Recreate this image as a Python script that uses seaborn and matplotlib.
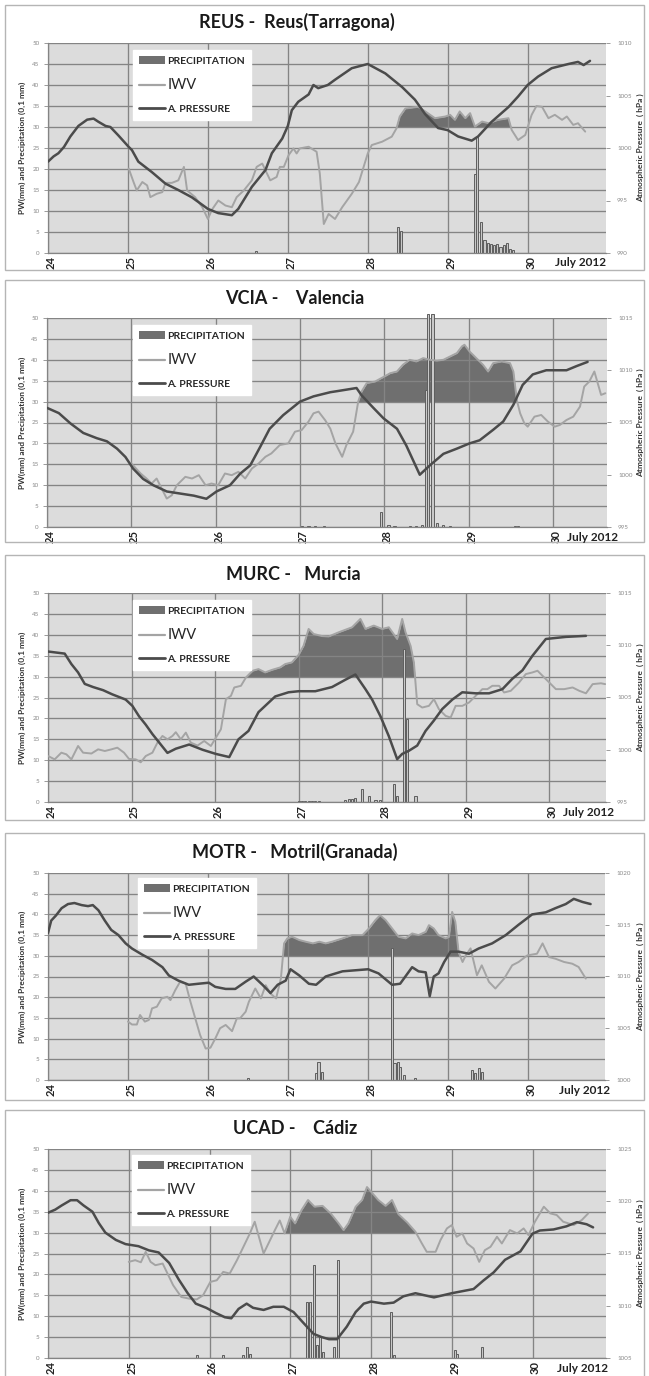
import numpy as np
import pandas as pd
import matplotlib
matplotlib.use("Agg")
import matplotlib.pyplot as plt
import seaborn as sns
from matplotlib.patches import Patch, Rectangle
from matplotlib.lines import Line2D
from matplotlib.transforms import ScaledTranslation

sns.set_style("white")
plt.rcParams["font.family"] = ["Lato", "DejaVu Sans"]

# ---------------- DATA ----------------
day_ticks = [24, 25, 26, 27, 28, 29, 30]
left_ticks = list(range(0, 51, 5))

# REUS
reus_p_day = [24.00, 24.07, 24.13, 24.20, 24.28, 24.38, 24.49, 24.57, 24.63, 24.72, 24.78, 24.88, 25.01, 25.05, 25.13, 25.30, 25.47, 25.63, 25.80, 26.00, 26.13, 26.30, 26.38, 26.55, 26.72, 26.80, 26.93, 27.00, 27.05, 27.13, 27.26, 27.32, 27.38, 27.50, 27.59, 27.80, 28.00, 28.22, 28.43, 28.59, 28.72, 28.88, 29.00, 29.13, 29.30, 29.38, 29.55, 29.76, 29.88, 30.00, 30.13, 30.30, 30.51, 30.63, 30.70, 30.78]
reus_p_hpa = [998.7, 999.2, 999.5, 1000.1, 1001.1, 1002.1, 1002.7, 1002.8, 1002.5, 1002.1, 1002.0, 1001.2, 1000.1, 999.8, 998.7, 997.7, 996.6, 996.0, 995.3, 994.2, 993.8, 993.6, 994.2, 996.3, 997.9, 999.5, 1000.9, 1002.1, 1003.6, 1004.4, 1005.1, 1006.0, 1005.7, 1006.0, 1006.5, 1007.6, 1008.0, 1007.1, 1005.8, 1004.6, 1003.2, 1001.9, 1001.7, 1001.1, 1000.7, 1001.1, 1002.5, 1003.9, 1004.9, 1006.0, 1006.8, 1007.6, 1008.0, 1008.2, 1007.9, 1008.3]
reus_iwv_day = [25.01, 25.07, 25.11, 25.18, 25.24, 25.28, 25.36, 25.43, 25.47, 25.55, 25.63, 25.70, 25.74, 25.84, 25.93, 26.00, 26.05, 26.13, 26.22, 26.30, 26.36, 26.45, 26.55, 26.61, 26.68, 26.78, 26.86, 26.90, 26.95, 27.01, 27.07, 27.11, 27.15, 27.26, 27.36, 27.40, 27.45, 27.51, 27.59, 27.68, 27.80, 27.89, 28.00, 28.05, 28.18, 28.30, 28.36, 28.40, 28.47, 28.63, 28.72, 28.84, 28.97, 29.03, 29.09, 29.15, 29.22, 29.28, 29.34, 29.43, 29.51, 29.63, 29.76, 29.80, 29.88, 29.97, 30.05, 30.11, 30.18, 30.26, 30.34, 30.43, 30.49, 30.57, 30.63, 30.72]
reus_iwv = [20.1, 16.9, 14.9, 16.9, 16.1, 13.3, 14.1, 14.5, 16.7, 16.7, 17.3, 20.5, 14.9, 13.3, 10.9, 8.1, 10.3, 12.5, 11.3, 10.9, 13.3, 14.9, 17.3, 20.5, 21.3, 17.3, 18.1, 20.5, 20.5, 23.3, 24.9, 23.7, 24.9, 25.3, 24.1, 18.9, 6.9, 9.3, 8.1, 10.9, 14.1, 16.9, 23.7, 25.7, 26.5, 27.7, 29.7, 32.5, 34.4, 34.8, 33.7, 32.1, 32.5, 32.9, 31.7, 33.7, 32.1, 33.3, 30.1, 31.3, 30.9, 31.7, 32.1, 29.3, 26.9, 28.1, 32.9, 35.0, 34.8, 32.1, 32.9, 31.7, 32.5, 30.5, 30.9, 28.9]
reus_rain_day = [26.60, 28.38, 28.41, 29.34, 29.37, 29.42, 29.46, 29.50, 29.54, 29.58, 29.62, 29.66, 29.70, 29.74, 29.78, 29.82]
reus_rain = [0.5, 6.1, 5.3, 18.9, 27.7, 7.3, 3.0, 2.5, 2.1, 1.8, 2.1, 1.5, 1.9, 2.3, 1.0, 0.6]

# VCIA
vcia_p_day = [24.00, 24.14, 24.28, 24.43, 24.59, 24.71, 24.83, 24.93, 25.02, 25.14, 25.26, 25.42, 25.58, 25.74, 25.89, 26.01, 26.17, 26.29, 26.41, 26.53, 26.64, 26.80, 27.00, 27.16, 27.36, 27.44, 27.67, 27.73, 27.87, 27.99, 28.15, 28.26, 28.42, 28.54, 28.70, 28.86, 29.01, 29.13, 29.29, 29.41, 29.53, 29.64, 29.76, 29.92, 30.16, 30.28, 30.41]
vcia_p_hpa = [1006.4, 1005.9, 1004.9, 1004.0, 1003.5, 1003.2, 1002.5, 1001.7, 1000.6, 999.6, 999.0, 998.4, 998.2, 998.0, 997.7, 998.4, 999.0, 1000.1, 1000.9, 1002.7, 1004.4, 1005.7, 1007.0, 1007.5, 1007.9, 1008.0, 1008.3, 1007.6, 1006.4, 1005.4, 1004.4, 1002.8, 1000.0, 1000.9, 1002.0, 1002.5, 1003.0, 1003.3, 1004.3, 1005.1, 1006.7, 1008.6, 1009.6, 1010.0, 1010.0, 1010.4, 1010.8]
vcia_iwv_day = [25.00, 25.11, 25.18, 25.24, 25.30, 25.36, 25.42, 25.48, 25.54, 25.64, 25.72, 25.80, 25.88, 25.95, 26.03, 26.11, 26.19, 26.27, 26.35, 26.43, 26.51, 26.59, 26.66, 26.76, 26.86, 26.94, 27.02, 27.10, 27.16, 27.22, 27.30, 27.36, 27.42, 27.50, 27.55, 27.63, 27.69, 27.73, 27.79, 27.89, 28.00, 28.07, 28.15, 28.22, 28.30, 28.38, 28.46, 28.54, 28.62, 28.70, 28.78, 28.86, 28.92, 28.95, 29.01, 29.09, 29.17, 29.23, 29.29, 29.39, 29.49, 29.53, 29.57, 29.61, 29.66, 29.70, 29.78, 29.86, 29.94, 30.02, 30.08, 30.16, 30.24, 30.32, 30.37, 30.43, 30.49, 30.53, 30.57, 30.62]
vcia_iwv = [15.2, 12.8, 11.6, 10.4, 11.6, 9.2, 6.8, 7.6, 10.0, 12.0, 11.6, 12.4, 10.0, 10.4, 10.0, 12.8, 12.4, 13.2, 11.6, 14.0, 15.2, 16.8, 17.6, 19.6, 20.0, 22.8, 23.2, 25.2, 27.2, 27.6, 25.5, 23.5, 20.0, 16.8, 19.6, 22.8, 30.0, 32.4, 34.4, 34.8, 36.0, 36.8, 37.2, 38.8, 40.0, 39.6, 40.4, 40.0, 39.8, 40.0, 40.8, 41.6, 43.2, 43.6, 42.0, 40.4, 38.8, 37.2, 39.2, 39.6, 39.2, 37.2, 30.4, 27.2, 24.8, 24.0, 26.4, 26.8, 25.2, 24.0, 24.4, 25.6, 26.4, 28.8, 33.6, 34.8, 37.2, 34.4, 31.6, 32.0]
vcia_rain_day = [27.02, 27.10, 27.18, 27.28, 27.96, 28.05, 28.12, 28.30, 28.38, 28.45, 28.49, 28.52, 28.57, 28.62, 28.70, 28.78, 29.55, 29.58]
vcia_rain = [0.3, 0.3, 0.3, 0.3, 3.6, 0.5, 0.3, 0.3, 0.3, 0.4, 32.8, 51.0, 51.0, 1.0, 0.4, 0.3, 0.3, 0.3]

# MURC
murc_p_day = [24.00, 24.10, 24.20, 24.28, 24.36, 24.44, 24.54, 24.66, 24.77, 24.93, 25.01, 25.09, 25.17, 25.25, 25.33, 25.43, 25.53, 25.69, 25.85, 26.01, 26.17, 26.28, 26.40, 26.52, 26.64, 26.72, 26.88, 27.00, 27.20, 27.40, 27.56, 27.68, 27.80, 27.88, 27.98, 28.08, 28.18, 28.24, 28.32, 28.42, 28.52, 28.62, 28.72, 28.84, 28.96, 29.12, 29.28, 29.44, 29.56, 29.68, 29.80, 29.96, 30.20, 30.44]
murc_p_hpa = [1009.4, 1009.3, 1009.2, 1008.2, 1007.4, 1006.3, 1006.0, 1005.7, 1005.3, 1004.8, 1004.2, 1003.2, 1002.4, 1001.5, 1000.7, 999.7, 1000.1, 1000.5, 1000.0, 999.6, 999.3, 1001.0, 1001.8, 1003.6, 1004.5, 1005.1, 1005.5, 1005.6, 1005.6, 1006.0, 1006.7, 1007.2, 1005.8, 1004.8, 1003.2, 1001.3, 999.1, 999.6, 999.9, 1000.4, 1001.8, 1002.8, 1003.9, 1004.8, 1005.5, 1005.4, 1005.4, 1005.8, 1006.8, 1007.6, 1009.0, 1010.6, 1010.8, 1010.9]
murc_iwv_day = [24.00, 24.08, 24.16, 24.22, 24.28, 24.36, 24.42, 24.52, 24.60, 24.68, 24.76, 24.83, 24.91, 24.97, 25.05, 25.11, 25.17, 25.25, 25.31, 25.37, 25.43, 25.49, 25.53, 25.59, 25.65, 25.71, 25.79, 25.87, 25.95, 26.01, 26.07, 26.13, 26.19, 26.23, 26.31, 26.37, 26.45, 26.52, 26.60, 26.68, 26.78, 26.84, 26.92, 27.00, 27.06, 27.12, 27.18, 27.28, 27.36, 27.48, 27.64, 27.74, 27.80, 27.90, 28.00, 28.08, 28.18, 28.24, 28.28, 28.34, 28.38, 28.42, 28.48, 28.56, 28.62, 28.68, 28.76, 28.82, 28.88, 28.96, 29.04, 29.12, 29.20, 29.26, 29.32, 29.40, 29.46, 29.54, 29.64, 29.72, 29.80, 29.86, 29.92, 30.00, 30.08, 30.18, 30.28, 30.36, 30.44, 30.52, 30.62, 30.67]
murc_iwv = [11.0, 10.2, 11.8, 11.4, 10.2, 13.4, 11.8, 11.6, 12.6, 12.2, 12.6, 13.0, 11.8, 10.3, 10.2, 9.5, 11.0, 11.8, 14.2, 15.8, 15.0, 15.8, 16.7, 15.0, 16.6, 14.2, 13.5, 14.6, 13.4, 15.4, 17.4, 24.6, 25.4, 27.4, 27.8, 29.8, 31.4, 31.8, 31.0, 31.6, 32.2, 33.0, 33.4, 35.2, 37.4, 41.4, 40.2, 39.7, 39.6, 40.6, 41.8, 43.8, 41.4, 42.2, 41.4, 41.8, 39.0, 43.8, 40.6, 37.4, 33.4, 23.4, 22.6, 23.0, 24.6, 22.2, 20.6, 20.2, 23.0, 23.0, 23.8, 25.4, 27.0, 27.0, 27.8, 27.8, 26.2, 26.6, 28.6, 30.6, 31.0, 31.4, 30.2, 28.6, 27.0, 27.0, 27.4, 26.6, 26.0, 28.2, 28.4, 28.2]
murc_rain_day = [27.00, 27.04, 27.08, 27.12, 27.16, 27.20, 27.24, 27.56, 27.60, 27.64, 27.68, 27.76, 27.84, 27.92, 27.97, 28.14, 28.18, 28.26, 28.30, 28.40]
murc_rain = [0.3, 0.3, 0.3, 0.3, 0.3, 0.3, 0.3, 0.5, 0.8, 0.6, 1.0, 3.0, 1.4, 0.5, 0.4, 4.2, 1.4, 36.6, 19.8, 1.5]

# MOTR
motr_p_day = [24.00, 24.04, 24.10, 24.17, 24.25, 24.33, 24.42, 24.50, 24.56, 24.63, 24.71, 24.79, 24.88, 24.97, 25.05, 25.18, 25.30, 25.43, 25.51, 25.63, 25.76, 25.88, 26.01, 26.09, 26.22, 26.34, 26.47, 26.57, 26.68, 26.78, 26.87, 26.97, 27.03, 27.14, 27.26, 27.35, 27.47, 27.51, 27.68, 27.84, 28.00, 28.13, 28.30, 28.40, 28.55, 28.63, 28.72, 28.77, 28.82, 28.88, 28.95, 29.03, 29.13, 29.26, 29.38, 29.55, 29.72, 29.88, 30.05, 30.22, 30.34, 30.47, 30.57, 30.68, 30.78]
motr_p_hpa = [1014.2, 1015.4, 1015.9, 1016.6, 1017.0, 1017.1, 1016.9, 1016.8, 1016.9, 1016.4, 1015.4, 1014.5, 1014.0, 1013.2, 1012.7, 1012.1, 1011.6, 1010.9, 1010.1, 1009.6, 1009.2, 1009.3, 1009.4, 1009.0, 1008.8, 1008.8, 1009.5, 1010.0, 1009.2, 1008.4, 1009.2, 1009.6, 1010.7, 1010.1, 1009.3, 1009.2, 1010.0, 1010.1, 1010.5, 1010.6, 1010.7, 1010.3, 1009.2, 1009.3, 1010.9, 1010.5, 1010.4, 1008.1, 1010.0, 1010.3, 1011.4, 1012.4, 1012.4, 1012.2, 1012.7, 1013.2, 1014.0, 1015.0, 1016.0, 1016.2, 1016.6, 1017.0, 1017.5, 1017.2, 1017.0]
motr_iwv_day = [25.00, 25.05, 25.11, 25.15, 25.21, 25.26, 25.30, 25.36, 25.42, 25.49, 25.53, 25.59, 25.65, 25.72, 25.78, 25.84, 25.90, 25.97, 26.03, 26.09, 26.15, 26.22, 26.30, 26.36, 26.40, 26.47, 26.51, 26.59, 26.66, 26.72, 26.78, 26.85, 26.91, 26.95, 26.99, 27.05, 27.14, 27.22, 27.31, 27.39, 27.47, 27.55, 27.68, 27.80, 27.93, 28.01, 28.09, 28.15, 28.22, 28.30, 28.38, 28.47, 28.55, 28.63, 28.72, 28.76, 28.82, 28.88, 28.97, 29.01, 29.05, 29.09, 29.13, 29.18, 29.22, 29.28, 29.36, 29.42, 29.51, 29.59, 29.70, 29.80, 29.88, 29.99, 30.11, 30.18, 30.26, 30.34, 30.45, 30.55, 30.63, 30.72]
motr_iwv = [14.1, 13.4, 13.4, 15.7, 14.1, 14.5, 17.3, 17.7, 19.7, 20.1, 19.3, 21.7, 23.7, 23.3, 18.9, 14.9, 10.9, 7.6, 7.8, 10.0, 12.5, 13.3, 11.8, 14.9, 14.9, 16.5, 18.9, 22.1, 19.7, 22.9, 20.9, 19.7, 24.5, 33.0, 34.2, 34.6, 33.8, 33.4, 33.0, 33.4, 33.0, 33.4, 34.2, 35.0, 35.0, 36.6, 38.6, 39.8, 38.6, 36.6, 34.6, 34.2, 35.4, 35.0, 35.8, 37.4, 36.6, 35.0, 34.2, 34.6, 40.6, 38.2, 30.9, 28.5, 30.1, 31.8, 25.3, 27.7, 23.7, 22.1, 24.5, 27.7, 28.5, 30.1, 30.5, 33.0, 29.7, 29.3, 28.5, 28.1, 27.3, 24.5]
motr_rain_day = [26.50, 27.35, 27.38, 27.42, 28.30, 28.33, 28.37, 28.40, 28.45, 28.59, 29.30, 29.34, 29.38, 29.42]
motr_rain = [0.4, 1.6, 4.4, 2.0, 31.8, 4.0, 4.3, 3.2, 1.2, 0.6, 2.4, 1.6, 2.8, 2.0]

# UCAD
ucad_p_day = [24.00, 24.09, 24.17, 24.28, 24.36, 24.44, 24.55, 24.63, 24.71, 24.84, 24.96, 25.12, 25.25, 25.37, 25.50, 25.62, 25.73, 25.83, 25.96, 26.08, 26.19, 26.27, 26.36, 26.46, 26.54, 26.67, 26.79, 26.92, 27.04, 27.17, 27.29, 27.39, 27.48, 27.58, 27.70, 27.81, 27.91, 28.00, 28.16, 28.28, 28.40, 28.55, 28.78, 29.00, 29.27, 29.39, 29.52, 29.66, 29.85, 30.00, 30.09, 30.26, 30.42, 30.55, 30.67, 30.75]
ucad_p_hpa = [1018.9, 1019.2, 1019.6, 1020.1, 1020.1, 1019.6, 1019.0, 1017.9, 1017.0, 1016.3, 1015.9, 1015.7, 1015.3, 1015.1, 1014.1, 1012.5, 1011.2, 1010.2, 1009.8, 1009.3, 1008.9, 1008.8, 1009.7, 1010.2, 1009.8, 1009.6, 1009.9, 1009.9, 1009.4, 1008.3, 1007.3, 1007.0, 1006.8, 1006.8, 1008.0, 1009.4, 1010.2, 1010.4, 1010.2, 1010.3, 1010.9, 1011.2, 1010.8, 1011.2, 1011.6, 1012.4, 1013.2, 1014.4, 1015.2, 1016.9, 1017.2, 1017.3, 1017.6, 1018.0, 1017.8, 1017.5]
ucad_iwv_day = [25.00, 25.08, 25.15, 25.21, 25.27, 25.33, 25.42, 25.48, 25.55, 25.65, 25.75, 25.84, 25.92, 26.01, 26.09, 26.17, 26.25, 26.34, 26.42, 26.50, 26.56, 26.60, 26.67, 26.73, 26.81, 26.87, 26.93, 27.00, 27.06, 27.14, 27.22, 27.30, 27.40, 27.50, 27.60, 27.66, 27.72, 27.81, 27.89, 27.95, 28.00, 28.09, 28.18, 28.26, 28.34, 28.45, 28.55, 28.63, 28.69, 28.80, 28.86, 28.94, 29.00, 29.06, 29.13, 29.19, 29.27, 29.34, 29.41, 29.48, 29.56, 29.62, 29.72, 29.81, 29.89, 29.95, 30.03, 30.14, 30.22, 30.30, 30.38, 30.51, 30.61, 30.69]
ucad_iwv = [23.0, 23.4, 22.9, 25.4, 23.0, 22.2, 22.6, 20.2, 17.4, 14.6, 14.2, 14.0, 15.0, 18.2, 18.6, 20.6, 20.2, 23.4, 26.6, 29.8, 32.6, 29.8, 25.0, 27.4, 30.6, 32.9, 29.8, 33.8, 32.2, 35.4, 37.8, 36.2, 36.4, 34.6, 32.2, 30.6, 32.2, 36.2, 37.8, 40.9, 39.8, 37.8, 36.4, 37.8, 34.4, 32.4, 30.2, 27.4, 25.4, 25.4, 28.2, 31.0, 31.8, 29.0, 29.8, 27.4, 26.2, 23.0, 25.8, 26.6, 29.0, 27.4, 30.6, 29.8, 31.0, 29.4, 32.6, 36.2, 34.6, 34.2, 32.6, 31.8, 33.0, 34.6]
ucad_rain_day = [25.84, 26.17, 26.42, 26.46, 26.50, 27.21, 27.25, 27.29, 27.33, 27.37, 27.41, 27.54, 27.59, 28.25, 28.29, 29.04, 29.07, 29.37]
ucad_rain = [0.6, 0.6, 0.6, 2.6, 1.0, 13.4, 13.4, 22.2, 3.0, 5.0, 1.4, 2.6, 23.4, 11.0, 0.6, 2.0, 1.0, 2.6]

titles = ["REUS -  Reus(Tarragona)", "VCIA -    Valencia", "MURC -   Murcia",
          "MOTR -   Motril(Granada)", "UCAD -    Cádiz"]
pressure_ranges = [(990, 1010), (995, 1015), (995, 1015), (1000, 1020), (1005, 1025)]
fill_windows = [(28.35, 29.80), (27.68, 29.58), (26.44, 28.40), (26.95, 29.13), (27.0, 28.58)]
day_max = [30.98, 30.64, 30.68, 30.96, 30.91]

series = [
    (reus_p_day, reus_p_hpa, reus_iwv_day, reus_iwv, reus_rain_day, reus_rain),
    (vcia_p_day, vcia_p_hpa, vcia_iwv_day, vcia_iwv, vcia_rain_day, vcia_rain),
    (murc_p_day, murc_p_hpa, murc_iwv_day, murc_iwv, murc_rain_day, murc_rain),
    (motr_p_day, motr_p_hpa, motr_iwv_day, motr_iwv, motr_rain_day, motr_rain),
    (ucad_p_day, ucad_p_hpa, ucad_iwv_day, ucad_iwv, ucad_rain_day, ucad_rain),
]

# ---------------- LAYOUT (pixels) ----------------
W, H = 649, 1376
axes_px = [(48, 43, 606, 253), (47, 318, 607, 527), (48, 593, 606, 802),
           (48, 873, 605, 1080), (48, 1149, 606, 1358)]
frames_px = [(5, 5, 644, 270), (5, 280, 644, 542), (5, 555, 644, 820),
             (5, 833, 644, 1100), (5, 1110, 644, 1385)]
title_px = [(297, 22), (295, 298), (293, 574), (295, 852), (295, 1129)]
legend_px = [(133, 50), (133, 325), (133, 600), (138, 878), (132, 1155)]
july_px = [555, 567, 563, 559, 557]

C_BG = "#dcdcdc"
C_GRID = "#848484"
C_P = "#4b4b4b"
C_IWV = "#a4a4a4"
C_FILL = "#6f6f6f"

fig = plt.figure(figsize=(W / 100, H / 100), dpi=100)
fig.patch.set_facecolor("white")

for i in range(5):
    pday, phpa, iday, iwv, rday, rain = series[i]
    l, t, r, b = axes_px[i]
    ax = fig.add_axes([l / W, 1 - b / H, (r - l) / W, (b - t) / H])
    ax.set_facecolor(C_BG)
    ax.set_xlim(24, day_max[i])
    ax.set_ylim(0, 50)
    ax.set_yticks(left_ticks)
    ax.set_xticks(day_ticks)
    ax.set_axisbelow(True)
    ax.grid(True, color=C_GRID, lw=0.95)
    for s in ["top", "right"]:
        ax.spines[s].set_visible(False)
    for s in ["left", "bottom"]:
        ax.spines[s].set_color(C_GRID)
        ax.spines[s].set_linewidth(0.9)

    # fill (IWV above 30 during rain window)
    iday_a = np.array(iday)
    iwv_a = np.array(iwv)
    a, bwin = fill_windows[i]
    mask = (iwv_a >= 30) & (iday_a >= a) & (iday_a <= bwin)
    ax.fill_between(iday_a, iwv_a, 30, where=mask, interpolate=True,
                    color=C_FILL, lw=0, zorder=0.3)

    # precipitation bars
    ax.bar(rday, rain, width=0.026, color="#c8c8c8", edgecolor="#5e5e5e",
           lw=0.7, zorder=2, clip_on=False)

    # IWV line
    df_i = pd.DataFrame({"day": iday, "iwv": iwv})
    sns.lineplot(data=df_i, x="day", y="iwv", ax=ax, color=C_IWV, lw=1.4,
                 estimator=None, sort=False, zorder=3)
    ax.set_xlabel("")
    ax.set_ylabel("")

    # pressure on right axis
    ax2 = ax.twinx()
    df_p = pd.DataFrame({"day": pday, "hpa": phpa})
    sns.lineplot(data=df_p, x="day", y="hpa", ax=ax2, color=C_P, lw=1.8,
                 estimator=None, sort=False)
    lo, hi = pressure_ranges[i]
    ax2.set_ylim(lo, hi)
    ax2.set_yticks(list(range(lo, hi + 1, 5)))
    ax2.set_xlim(24, day_max[i])
    ax2.set_xlabel("")
    ax2.set_ylabel("")
    for s in ["top", "right", "left", "bottom"]:
        ax2.spines[s].set_visible(False)
    ax2.tick_params(axis="y", labelsize=4.5, labelcolor="#8a8a8a", color="#8a8a8a",
                    length=3, width=0.6, pad=5)

    ax.tick_params(axis="y", labelsize=4.5, labelcolor="#8a8a8a", color="#8a8a8a",
                   length=3, width=0.6, left=True, pad=3)
    ax.tick_params(axis="x", length=0, pad=2)
    ax.set_xticklabels([str(d) for d in day_ticks], rotation=90,
                       fontsize=8, fontweight="bold", color="#222222")
    for lbl in ax.get_xticklabels():
        lbl.set_transform(lbl.get_transform() + ScaledTranslation(0.03, 0, fig.dpi_scale_trans))

    # legend
    handles = [Patch(facecolor=C_FILL, edgecolor="none"),
               Line2D([], [], color=C_IWV, lw=1.6),
               Line2D([], [], color=C_P, lw=2.0)]
    lx, ly = legend_px[i]
    leg = ax2.legend(handles, ["PRECIPITATION", "IWV", "A. PRESSURE"],
                     loc="upper left",
                     bbox_to_anchor=((lx - l) / (r - l), (b - ly) / (b - t)),
                     frameon=True, fancybox=False, facecolor="white",
                     edgecolor="white", framealpha=1, borderaxespad=0,
                     borderpad=0.6, handlelength=2.5, handletextpad=0.2,
                     labelspacing=1.2, prop={"weight": "bold", "size": 7.5})
    leg.get_texts()[1].set_fontsize(10.5)
    leg.get_texts()[1].set_fontweight("normal")

    # titles and labels
    tx, ty = title_px[i]
    fig.text(tx / W, 1 - ty / H, titles[i], ha="center", va="center",
             fontsize=13, fontweight="bold", color="#1a1a1a")
    fig.text(22 / W, 1 - ((t + b) / 2) / H, "PW(mm) and Precipitation (0,1 mm)",
             rotation=90, ha="center", va="center", fontsize=6,
             fontweight="bold", color="#333333")
    fig.text(640 / W, 1 - ((t + b) / 2) / H, "Atmospheric Pressure  ( hPa )",
             rotation=90, ha="center", va="center", fontsize=6,
             fontweight="bold", color="#333333")
    fig.text(july_px[i] / W, 1 - (b + 10) / H, "July 2012", ha="left", va="center",
             fontsize=8.5, fontweight="bold", color="#222222")

    # panel frame
    fl, ft, fr, fb = frames_px[i]
    fig.add_artist(Rectangle((fl / W, 1 - fb / H), (fr - fl) / W, (fb - ft) / H,
                             transform=fig.transFigure, fill=False,
                             edgecolor="#b5b5b5", lw=1.0))

fig.savefig("out.png", dpi=100, facecolor="white")
